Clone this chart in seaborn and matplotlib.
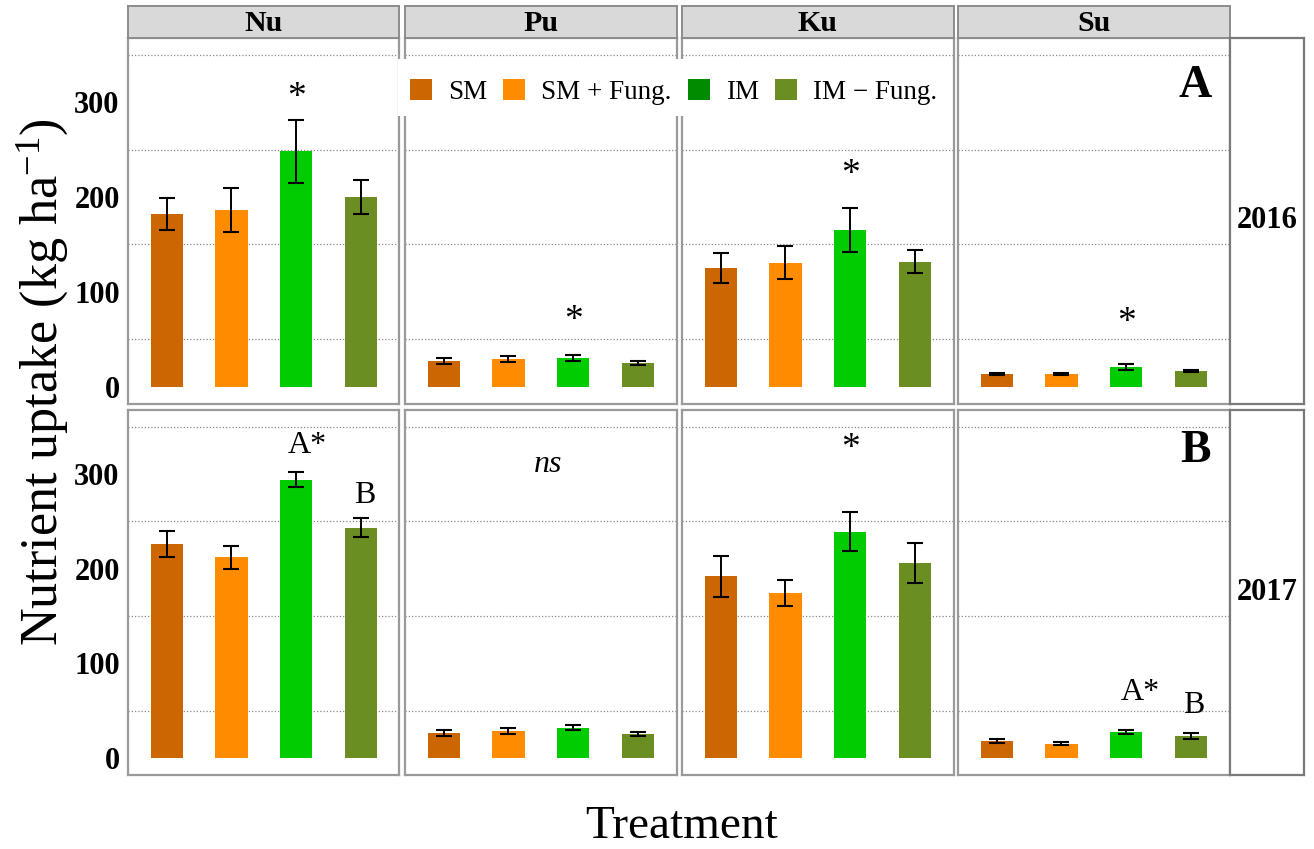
import numpy as np
import pandas as pd
import matplotlib
matplotlib.use("Agg")
import matplotlib.pyplot as plt
from matplotlib.patches import Patch, Rectangle
from matplotlib.ticker import FixedLocator
import seaborn as sns

# ---------------------------------------------------------------- data
treatments = ["SM", "SM + Fung.", "IM", "IM \u2212 Fung."]
nutrients = ["Nu", "Pu", "Ku", "Su"]
years = ["2016", "2017"]
panel_tags = ["A", "B"]

# mean uptake (kg/ha), rows = nutrient, columns = treatment
means_2016 = [
    [182, 186, 248, 200],
    [27, 29.5, 30.5, 25],
    [125, 131, 165, 132],
    [13.5, 13.5, 21, 17],
]
se_2016 = [
    [17, 23, 33, 18],
    [3, 3, 3.5, 2],
    [16, 17.5, 23, 12],
    [1.5, 1.5, 3.5, 1],
]
means_2017 = [
    [226, 212, 294, 243],
    [26.5, 28.5, 32, 25.5],
    [192, 174, 239, 206],
    [17.5, 15, 27.5, 23.5],
]
se_2017 = [
    [14, 12, 8, 10],
    [3, 3, 3, 2],
    [21.5, 13.5, 20.5, 21],
    [2, 1.5, 2.5, 3],
]

# significance labels: (year index, nutrient index, x, y, text)
sig_labels = [
    (0, 0, 2.0, 295, "*"),
    (0, 1, 2.0, 60, "*"),
    (0, 2, 2.0, 214, "*"),
    (0, 3, 2.0, 58, "*"),
    (1, 0, 2.18, 322, "A*"),
    (1, 0, 3.06, 269, "B"),
    (1, 1, 1.62, 302, "ns"),
    (1, 2, 2.0, 317, "*"),
    (1, 3, 2.22, 61, "A*"),
    (1, 3, 3.04, 47, "B"),
]

bar_colors = ["#CC6600", "#FF8C00", "#00CC00", "#6B8E23"]
legend_colors = ["#CC6600", "#FF8C00", "#008B00", "#6B8E23"]

# ---------------------------------------------------------------- style
sns.set_style("white")
plt.rcParams["font.family"] = ["Liberation Serif", "DejaVu Serif"]
plt.rcParams["mathtext.fontset"] = "custom"
plt.rcParams["mathtext.rm"] = "Liberation Serif"
plt.rcParams["mathtext.it"] = "Liberation Serif:italic"
plt.rcParams["mathtext.bf"] = "Liberation Serif:bold"
plt.rcParams["text.color"] = "black"
plt.rcParams["axes.labelcolor"] = "black"

W, H = 1314, 849
fig = plt.figure(figsize=(W / 100, H / 100), dpi=100)
fig.patch.set_facecolor("white")


def rect(x0, y0, x1, y1):
    return [x0 / W, 1 - y1 / H, (x1 - x0) / W, (y1 - y0) / H]


cols = [(128, 399.5), (405, 676.5), (682, 953.5), (958, 1229.5)]
rows = [(38, 403.5), (410, 774.5)]
spine_col = "#9a9a9a"

all_means = [means_2016, means_2017]
all_se = [se_2016, se_2017]

axes = {}
for r, (y0, y1) in enumerate(rows):
    for c, (x0, x1) in enumerate(cols):
        ax = fig.add_axes(rect(x0, y0, x1, y1))
        axes[(r, c)] = ax
        df = pd.DataFrame({"Treatment": treatments,
                           "Uptake": all_means[r][c]})
        sns.barplot(data=df, x="Treatment", y="Uptake", hue="Treatment",
                    order=treatments, hue_order=treatments,
                    palette=bar_colors, saturation=1, width=0.5,
                    errorbar=None, legend=False, linewidth=0, ax=ax)
        ax.errorbar(np.arange(len(treatments)), all_means[r][c],
                    yerr=all_se[r][c], fmt="none", ecolor="black",
                    elinewidth=1.4, capsize=6, capthick=1.5, zorder=3)
        ax.set_xlim(-0.6, 3.6)
        ax.set_ylim(-17.5, 367.5)
        ax.set_xlabel("")
        ax.set_ylabel("")
        ax.set_yticks([0, 100, 200, 300])
        ax.yaxis.set_minor_locator(FixedLocator([50, 150, 250, 350]))
        ax.grid(False)
        ax.grid(which="minor", axis="y", color="#8a8a8a",
                linestyle=(0, (1, 1.6)), linewidth=0.9)
        ax.set_axisbelow(True)
        ax.tick_params(which="minor", length=0)
        for s in ax.spines.values():
            s.set_color(spine_col)
            s.set_linewidth(1.6)
            s.set_visible(True)
        if c == 0:
            ax.tick_params(axis="y", which="major", length=4, width=1,
                           color=spine_col, labelcolor="black",
                           labelsize=22, pad=2)
            for lab in ax.get_yticklabels():
                lab.set_fontweight("bold")
        else:
            ax.tick_params(axis="y", which="major", length=0,
                           labelleft=False)
        if r == 1:
            ax.tick_params(axis="x", length=3, width=1, color=spine_col,
                           labelbottom=False)
        else:
            ax.tick_params(axis="x", length=0, labelbottom=False)

# facet strips along the top
for c, (x0, x1) in enumerate(cols):
    sax = fig.add_axes(rect(x0, 5.5, x1, 38))
    sax.set_facecolor("#D9D9D9")
    sax.set_xticks([])
    sax.set_yticks([])
    for s in sax.spines.values():
        s.set_color("#8c8c8c")
        s.set_linewidth(1.4)
    sax.text(0.5, 0.45, nutrients[c], transform=sax.transAxes,
             ha="center", va="center", fontsize=21.5, fontweight="bold")

# facet strips on the right
for r, (y0, y1) in enumerate(rows):
    sax = fig.add_axes(rect(1229.5, y0, 1304, y1))
    sax.set_facecolor("white")
    sax.set_xticks([])
    sax.set_yticks([])
    for s in sax.spines.values():
        s.set_color("#7a7a7a")
        s.set_linewidth(1.6)
    sax.text(0.5, 0.5, years[r], transform=sax.transAxes,
             ha="center", va="center", fontsize=22, fontweight="bold")

# significance letters and stars
for r, c, x, y, txt in sig_labels:
    style = "italic" if txt == "ns" else "normal"
    size = 27 if txt == "*" else 23
    axes[(r, c)].text(x, y, txt, ha="center", va="baseline",
                      fontsize=size, fontstyle=style, zorder=4)

# panel tags
for r, tag in enumerate(panel_tags):
    axes[(r, 3)].text(3.07, [305.6, 312.6][r], tag, ha="center",
                      va="baseline", fontsize=33, fontweight="bold")

# legend on a white box spanning the upper facets
fig.add_artist(Rectangle((398 / W, 1 - 116 / H), (950 - 398) / W,
                         (116 - 59) / H, transform=fig.transFigure,
                         facecolor="white", edgecolor="none", zorder=4))
handles = [Patch(facecolor=col, edgecolor="none") for col in legend_colors]
fig.legend(handles, treatments, loc="center left",
           bbox_to_anchor=(410 / W, 1 - 92 / H), ncol=4, frameon=False,
           fontsize=19.5, handlelength=0.8, handleheight=0.8,
           handletextpad=0.6, columnspacing=0.6, borderaxespad=0,
           borderpad=0)

# axis titles
fig.text(57 / W, 1 - 382 / H, r"Nutrient uptake (kg ha$^{-1}$)",
         rotation=90, rotation_mode="anchor", ha="center", va="baseline",
         fontsize=37.5)
fig.text(682 / W, 1 - 838 / H, "Treatment", ha="center", va="baseline",
         fontsize=34)

fig.savefig("out.png", dpi=100, facecolor="white")
